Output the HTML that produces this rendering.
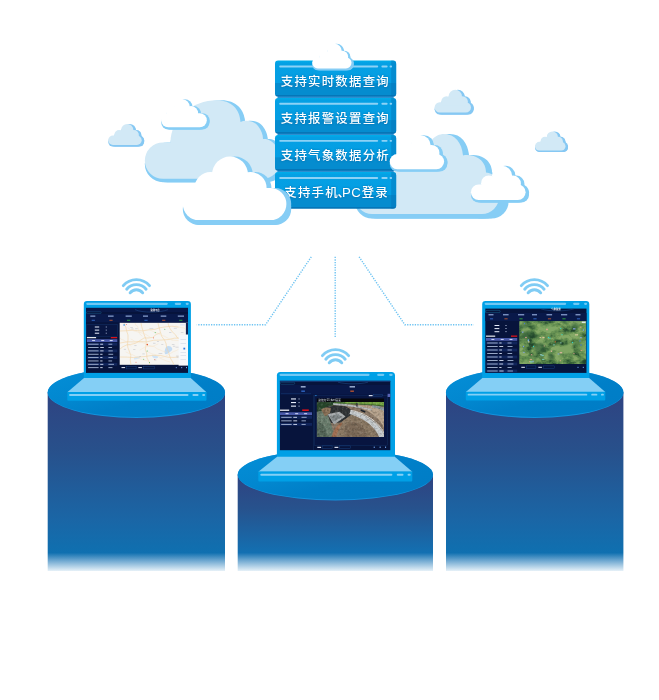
<!DOCTYPE html>
<html lang="zh-CN">
<head>
<meta charset="utf-8">
<title>云平台数据服务</title>
<style>
html,body{margin:0;padding:0;background:#fff;}
body{width:659px;height:700px;overflow:hidden;position:relative;font-family:"Liberation Sans","Noto Sans CJK SC",sans-serif;}
svg{position:absolute;left:0;top:0;display:block;}
text{font-family:"Liberation Sans","Noto Sans CJK SC",sans-serif;}
.bt{font-size:12.4px;font-weight:500;fill:#fff;letter-spacing:1.25px;filter:drop-shadow(0 0 0.8px rgba(0,70,130,0.55));}
.t{font-size:2.6px;fill:#e8f0ff;opacity:0.92;}
.tb{font-size:2.3px;fill:#ffffff;font-weight:700;opacity:0.96;}
</style>
</head>
<body>
<svg width="659" height="700" viewBox="0 0 659 700">
<defs>
  <linearGradient id="cylL" gradientUnits="userSpaceOnUse" x1="0" y1="392" x2="0" y2="571">
    <stop offset="0" stop-color="#2f4381"/>
    <stop offset="0.32" stop-color="#28508b"/>
    <stop offset="0.715" stop-color="#1a66a6"/>
    <stop offset="0.898" stop-color="#0f70b0"/>
    <stop offset="0.94" stop-color="#6aa5cf"/>
    <stop offset="1" stop-color="#e6f1f8"/>
  </linearGradient>
  <linearGradient id="cylC" gradientUnits="userSpaceOnUse" x1="0" y1="475" x2="0" y2="571">
    <stop offset="0" stop-color="#2f4381"/>
    <stop offset="0.35" stop-color="#27528d"/>
    <stop offset="0.81" stop-color="#1370b2"/>
    <stop offset="0.885" stop-color="#6aa5cf"/>
    <stop offset="1" stop-color="#e6f1f8"/>
  </linearGradient>
  <linearGradient id="disc" x1="0" y1="0" x2="1" y2="1">
    <stop offset="0" stop-color="#048fd8"/>
    <stop offset="0.4" stop-color="#0287cf"/>
    <stop offset="0.6" stop-color="#007fc8"/>
    <stop offset="1" stop-color="#007cc5"/>
  </linearGradient>
  <linearGradient id="btn" x1="0" y1="0" x2="0" y2="1">
    <stop offset="0" stop-color="#00aeea"/>
    <stop offset="0.07" stop-color="#05a0e4"/>
    <stop offset="0.622" stop-color="#049ee3"/>
    <stop offset="0.632" stop-color="#058ccf"/>
    <stop offset="0.945" stop-color="#058ccf"/>
    <stop offset="0.955" stop-color="#0576b8"/>
    <stop offset="1" stop-color="#0576b8"/>
  </linearGradient>
  <filter id="soft" x="-5%" y="-5%" width="110%" height="110%"><feGaussianBlur stdDeviation="0.6"/></filter>
  <filter id="soft2" x="-5%" y="-5%" width="110%" height="110%"><feGaussianBlur stdDeviation="1.1"/></filter>
  <filter id="sat" filterUnits="userSpaceOnUse" x="519" y="321" width="68" height="44" color-interpolation-filters="sRGB">
    <feTurbulence type="fractalNoise" baseFrequency="0.110 0.150" numOctaves="5" seed="12"/>
    <feColorMatrix type="matrix" values="2.300 0 0 0 -0.470  2.300 0 0 0 -0.470  2.300 0 0 0 -0.470  0 0 0 0 1"/>
    <feComponentTransfer>
      <feFuncR type="table" tableValues="0.140 0.200 0.290 0.370 0.440 0.520"/>
      <feFuncG type="table" tableValues="0.280 0.360 0.460 0.540 0.600 0.660"/>
      <feFuncB type="table" tableValues="0.180 0.210 0.260 0.310 0.340 0.400"/>
    </feComponentTransfer>
  </filter>
  <filter id="grainD" x="0" y="0" width="1" height="1" color-interpolation-filters="sRGB">
    <feTurbulence type="fractalNoise" baseFrequency="0.420" numOctaves="2" seed="5"/>
    <feColorMatrix type="matrix" values="0 0 0 0 0.080  0 0 0 0 0.080  0 0 0 0 0.060  2.400 0 0 0 -1.050"/>
  </filter>
  <filter id="grainL" x="0" y="0" width="1" height="1" color-interpolation-filters="sRGB">
    <feTurbulence type="fractalNoise" baseFrequency="0.380" numOctaves="2" seed="9"/>
    <feColorMatrix type="matrix" values="0 0 0 0 0.960  0 0 0 0 0.950  0 0 0 0 0.900  0 2.400 0 0 -1.150"/>
  </filter>
  <clipPath id="clipA"><rect x="42.500" y="-5" width="80" height="80"/></clipPath>
  <clipPath id="clipB"><rect x="18" y="-5" width="30" height="40"/></clipPath>
  <clipPath id="cpPhoto"><rect x="316.8" y="402" width="67.2" height="35"/></clipPath>
  <clipPath id="cpSat"><rect x="519.500" y="321.200" width="66.500" height="42.800"/></clipPath>
  <clipPath id="cpMap"><rect x="119.7" y="323" width="68.3" height="42"/></clipPath>

  <!-- cloud shapes (unions of primitives) -->
  <g id="cloudA">
    <rect x="0" y="31.500" width="103.600" height="32" rx="16"/>
    <circle cx="47.200" cy="18" r="18"/>
    <circle cx="27.700" cy="31.500" r="16"/>
    <circle cx="67.800" cy="31.500" r="16"/>
    <rect x="27.700" y="18" width="40" height="24"/>
  </g>
  <g id="cloudB">
    <rect x="0" y="12.500" width="36.400" height="10.300" rx="5.150"/>
    <circle cx="11.900" cy="11.700" r="5.200"/>
    <circle cx="20.700" cy="6.700" r="6.700"/>
    <circle cx="27.900" cy="11.900" r="5.400"/>
    <rect x="8" y="9" width="24" height="7"/>
  </g>
  <path id="bigLp" d="M163,178.800 A18.200,18.200 0 0 1 163,142.400 H170.500 C171,118 192,100.200 217,100.200 C231,100.200 240,109 240.500,122 C245,119.500 254,120.500 258,126 C261,130 263,134 263,139 C266,138.500 272,140 276,146 C279,150 281,155 281,160 A18.800,18.800 0 0 1 262,178.800 Z"/>
  <path id="bigRp" d="M372,214 A17,17 0 0 1 355,197 V160 H424 C426,142 435,134 444,134 C455,134 462,143 463,155.500 C468,154.500 474,155.500 478,158 C483,161 486,166 486,172.500 C494,173 499,180 499,190 V197 A17,17 0 0 1 482,214 Z"/>

  <g id="wifi" fill="none" stroke="#80ccf4" stroke-width="2.900" stroke-linecap="round">
    <path d="M-13.100,-11.400 A17.300,17.300 0 0 1 13.100,-11.400"/>
    <path d="M-9.700,-7.800 A12.600,12.600 0 0 1 9.700,-7.800"/>
    <path d="M-6.300,-4.200 A8,8 0 0 1 6.300,-4.200"/>
  </g>
</defs>

<!-- big light cloud (left) -->
<g fill="#86cdf5"><use href="#bigLp" transform="translate(0,3.400)"/><use href="#bigLp" transform="translate(2.300,3.400)"/><use href="#bigLp" transform="translate(4.600,3.400)"/><use href="#bigLp" transform="translate(4.600,1.500)"/><use href="#bigLp" transform="translate(4.600,0)"/></g>
<use href="#bigLp" fill="#d2e9f6"/>
<!-- big light cloud (right) -->
<g fill="#86cdf5"><use href="#bigRp" transform="translate(0,4.600)"/><use href="#bigRp" transform="translate(3,4.600)"/><use href="#bigRp" transform="translate(6,4.600)"/><use href="#bigRp" transform="translate(6,2)"/><use href="#bigRp" transform="translate(6,0)"/><rect x="465" y="184" width="43.600" height="34.600" rx="17"/></g>
<use href="#bigRp" fill="#d2e9f6"/>
<!-- small light clouds -->
<g fill="#86c8f3">
  <use href="#cloudB" transform="translate(108.2,125.6) scale(0.9203)"/>
  <use href="#cloudB" transform="translate(109.45,125.6) scale(0.9203)"/>
  <use href="#cloudB" transform="translate(110.7,125.6) scale(0.9203)"/>
  <use href="#cloudB" transform="translate(110.7,124.8) scale(0.9203)"/>
  <use href="#cloudB" transform="translate(110.7,124) scale(0.9203)" clip-path="url(#clipB)"/>
</g>
<use href="#cloudB" transform="translate(108.2,124) scale(0.9203)" fill="#d2e9f6"/>
<g fill="#86c8f3">
  <use href="#cloudB" transform="translate(434.6,91.6) scale(1.0000)"/>
  <use href="#cloudB" transform="translate(435.95,91.6) scale(1.0000)"/>
  <use href="#cloudB" transform="translate(437.3,91.6) scale(1.0000)"/>
  <use href="#cloudB" transform="translate(437.3,90.7) scale(1.0000)"/>
  <use href="#cloudB" transform="translate(437.3,89.8) scale(1.0000)" clip-path="url(#clipB)"/>
</g>
<use href="#cloudB" transform="translate(434.6,89.8) scale(1.0000)" fill="#d2e9f6"/>
<g fill="#86c8f3">
  <use href="#cloudB" transform="translate(535,132.9) scale(0.8379)"/>
  <use href="#cloudB" transform="translate(536.25,132.9) scale(0.8379)"/>
  <use href="#cloudB" transform="translate(537.5,132.9) scale(0.8379)"/>
  <use href="#cloudB" transform="translate(537.5,132.15) scale(0.8379)"/>
  <use href="#cloudB" transform="translate(537.5,131.4) scale(0.8379)" clip-path="url(#clipB)"/>
</g>
<use href="#cloudB" transform="translate(535,131.4) scale(0.8379)" fill="#d2e9f6"/>
<!-- small white cloud on the left big cloud -->
<g fill="#86cdf5">
  <use href="#cloudA" transform="translate(161.2,101.6) scale(0.4402)"/>
  <use href="#cloudA" transform="translate(162.55,101.6) scale(0.4402)"/>
  <use href="#cloudA" transform="translate(163.9,101.6) scale(0.4402)"/>
  <use href="#cloudA" transform="translate(163.9,100.45) scale(0.4402)"/>
  <use href="#cloudA" transform="translate(163.9,99.3) scale(0.4402)" clip-path="url(#clipA)"/>
</g>
<use href="#cloudA" transform="translate(161.2,99.3) scale(0.4402)" fill="#ffffff"/>
<!-- feature list -->
<g id="buttons">
  <rect x="277.500" y="64" width="116.200" height="142" fill="#2c8fd0"/>
  <rect x="275" y="60.6" width="121.200" height="36" rx="3.200" fill="url(#btn)"/>
  <rect x="275" y="97.9" width="121.200" height="35.8" rx="3.200" fill="url(#btn)"/>
  <rect x="275" y="135" width="121.200" height="35.8" rx="3.200" fill="url(#btn)"/>
  <rect x="275" y="172.1" width="121.200" height="36.7" rx="3.200" fill="url(#btn)"/>
  <g fill="#0670b4" opacity="0.400">
    <path d="M391.200,60.6 H393 a3.200,3.200 0 0 1 3.200,3.200 V93.4 a3.200,3.200 0 0 1 -3.200,3.200 H391.200 Z"/>
    <path d="M391.200,97.9 H393 a3.200,3.200 0 0 1 3.200,3.200 V130.5 a3.200,3.200 0 0 1 -3.200,3.200 H391.200 Z"/>
    <path d="M391.200,135 H393 a3.200,3.200 0 0 1 3.200,3.200 V167.6 a3.200,3.200 0 0 1 -3.200,3.200 H391.200 Z"/>
    <path d="M391.200,172.1 H393 a3.200,3.200 0 0 1 3.200,3.200 V205.6 a3.200,3.200 0 0 1 -3.200,3.200 H391.200 Z"/>
  </g>
  <g fill="#8cd2f6">
    <rect x="279.200" y="65.5" width="99" height="1.900" rx="0.950"/><rect x="381.400" y="65.5" width="6.200" height="1.900" rx="0.950"/><rect x="389.600" y="65.5" width="2.500" height="1.900" rx="0.950"/>
    <rect x="279.200" y="102.8" width="99" height="1.900" rx="0.950"/><rect x="381.400" y="102.8" width="6.200" height="1.900" rx="0.950"/><rect x="389.600" y="102.8" width="2.500" height="1.900" rx="0.950"/>
    <rect x="279.200" y="139.9" width="99" height="1.900" rx="0.950"/><rect x="381.400" y="139.9" width="6.200" height="1.900" rx="0.950"/><rect x="389.600" y="139.9" width="2.500" height="1.900" rx="0.950"/>
    <rect x="279.200" y="177" width="99" height="1.900" rx="0.950"/><rect x="381.400" y="177" width="6.200" height="1.900" rx="0.950"/><rect x="389.600" y="177" width="2.500" height="1.900" rx="0.950"/>
  </g>
  <text class="bt" x="280.800" y="85.7">支持实时数据查询</text>
  <text class="bt" x="280.800" y="123">支持报警设置查询</text>
  <text class="bt" x="280.800" y="160.1">支持气象数据分析</text>
  <text class="bt" x="284.300" y="197.2">支持手机<tspan dx="-1.300">、</tspan><tspan dx="-9.200" letter-spacing="0.500" font-size="13.200">PC</tspan><tspan dx="0.300">登录</tspan></text>
</g>
<!-- white cloud above the list -->
<g fill="#86cdf5">
  <use href="#cloudB" transform="translate(312.2,45.7) scale(1.0797)"/>
  <use href="#cloudB" transform="translate(313.3,45.7) scale(1.0797)"/>
  <use href="#cloudB" transform="translate(314.4,45.7) scale(1.0797)"/>
  <use href="#cloudB" transform="translate(314.4,44.75) scale(1.0797)"/>
  <use href="#cloudB" transform="translate(314.4,43.8) scale(1.0797)" clip-path="url(#clipB)"/>
</g>
<use href="#cloudB" transform="translate(312.2,43.8) scale(1.0797)" fill="#ffffff"/>
<!-- white cloud right of the list -->
<g fill="#86cdf5">
  <use href="#cloudB" transform="translate(389.7,137.4) scale(1.4945)"/>
  <use href="#cloudB" transform="translate(391.35,137.4) scale(1.4945)"/>
  <use href="#cloudB" transform="translate(393,137.4) scale(1.4945)"/>
  <use href="#cloudB" transform="translate(393,136.3) scale(1.4945)"/>
  <use href="#cloudB" transform="translate(393,135.2) scale(1.4945)" clip-path="url(#clipB)"/>
</g>
<use href="#cloudB" transform="translate(389.7,135.2) scale(1.4945)" fill="#ffffff"/>
<!-- white cloud lower right -->
<g fill="#86cdf5">
  <use href="#cloudB" transform="translate(470.9,168.2) scale(1.5027)"/>
  <use href="#cloudB" transform="translate(472.6,168.2) scale(1.5027)"/>
  <use href="#cloudB" transform="translate(474.3,168.2) scale(1.5027)"/>
  <use href="#cloudB" transform="translate(474.3,167) scale(1.5027)"/>
  <use href="#cloudB" transform="translate(474.3,165.8) scale(1.5027)" clip-path="url(#clipB)"/>
</g>
<use href="#cloudB" transform="translate(470.9,165.8) scale(1.5027)" fill="#ffffff"/>
<!-- big white cloud front left -->
<g fill="#86cdf5">
  <use href="#cloudA" transform="translate(182.8,161.4) scale(1.0000)"/>
  <use href="#cloudA" transform="translate(185.2,161.4) scale(1.0000)"/>
  <use href="#cloudA" transform="translate(187.6,161.4) scale(1.0000)"/>
  <use href="#cloudA" transform="translate(187.6,159) scale(1.0000)"/>
  <use href="#cloudA" transform="translate(187.6,156.6) scale(1.0000)" clip-path="url(#clipA)"/>
</g>
<use href="#cloudA" transform="translate(182.8,156.6) scale(1.0000)" fill="#ffffff"/>
<!-- dotted connectors -->
<g fill="none" stroke="#6fc4f2" stroke-width="1.400" stroke-dasharray="1.300 1.250">
  <path d="M311.300,256.800 L265.600,324.700 H196.800"/>
  <path d="M335.200,256.800 V337"/>
  <path d="M359.100,256.800 L404.800,324.700 H473.600"/>
</g>

<!-- pedestals -->
<path d="M47.700,392.500 H225 V571 H47.700 Z" fill="url(#cylL)"/>
<ellipse cx="136.350" cy="392.700" rx="88.650" ry="25.200" fill="#1393de"/>
<ellipse cx="136.350" cy="392.300" rx="88.650" ry="24.700" fill="url(#disc)"/>
<path d="M446,392.500 H623.400 V571 H446 Z" fill="url(#cylL)"/>
<ellipse cx="534.700" cy="392.700" rx="88.700" ry="25.200" fill="#1393de"/>
<ellipse cx="534.700" cy="392.300" rx="88.700" ry="24.700" fill="url(#disc)"/>
<path d="M237.700,474.800 H433 V571 H237.700 Z" fill="url(#cylC)"/>
<ellipse cx="335.350" cy="474.900" rx="97.650" ry="25.500" fill="#1393de"/>
<ellipse cx="335.350" cy="474.500" rx="97.650" ry="25" fill="url(#disc)"/>

<!-- laptops -->
<g>
  <path d="M87,301.1 H187.7 A3.2,3.2 0 0 1 190.9,304.3 V378.5 H83.8 V304.3 A3.2,3.2 0 0 1 87,301.1 Z" fill="#00a0e6"/>
  <rect x="86.2" y="302.7" width="81.61" height="2.2" rx="1.1" fill="#70c8f4"/>
  <rect x="174.73" y="302.7" width="6.43" height="2.2" rx="1.1" fill="#70c8f4"/>
  <rect x="185.65" y="302.7" width="3.11" height="2.2" rx="1.1" fill="#70c8f4"/>
  <path d="M84,378 H190.7 L206.5,392.2 H67.3 Z" fill="#84cff5"/>
  <path d="M67.3,392 H206.5 V399.8 A1,1 0 0 1 205.5,400.8 H68.3 A1,1 0 0 1 67.3,399.8 Z" fill="#00a0e6"/>
  <rect x="69.1" y="394" width="119.43" height="1.9" rx="0.95" fill="#84cff5"/>
  <rect x="192.44" y="394" width="6.12" height="1.9" rx="0.95" fill="#84cff5"/>
  <rect x="202.18" y="394" width="2.92" height="1.9" rx="0.95" fill="#84cff5"/>
</g>
<g>
  <path d="M485.4,301.1 H586.1 A3.2,3.2 0 0 1 589.3,304.3 V378.5 H482.2 V304.3 A3.2,3.2 0 0 1 485.4,301.1 Z" fill="#00a0e6"/>
  <rect x="484.6" y="302.7" width="81.61" height="2.2" rx="1.1" fill="#70c8f4"/>
  <rect x="573.13" y="302.7" width="6.43" height="2.2" rx="1.1" fill="#70c8f4"/>
  <rect x="584.05" y="302.7" width="3.11" height="2.2" rx="1.1" fill="#70c8f4"/>
  <path d="M482.4,378 H589.1 L605.3,391.9 H465.8 Z" fill="#84cff5"/>
  <path d="M465.8,391.7 H605.3 V399.5 A1,1 0 0 1 604.3,400.5 H466.8 A1,1 0 0 1 465.8,399.5 Z" fill="#00a0e6"/>
  <rect x="467.6" y="393.7" width="119.69" height="1.9" rx="0.95" fill="#84cff5"/>
  <rect x="591.21" y="393.7" width="6.14" height="1.9" rx="0.95" fill="#84cff5"/>
  <rect x="600.98" y="393.7" width="2.93" height="1.9" rx="0.95" fill="#84cff5"/>
</g>
<g>
  <path d="M280.42,371.9 H391.48 A3.52,3.52 0 0 1 395,375.42 V457.3 H276.9 V375.42 A3.52,3.52 0 0 1 280.42,371.9 Z" fill="#00a0e6"/>
  <rect x="279.54" y="373.66" width="89.99" height="2.42" rx="1.21" fill="#70c8f4"/>
  <rect x="377.17" y="373.66" width="7.09" height="2.42" rx="1.21" fill="#70c8f4"/>
  <rect x="389.21" y="373.66" width="3.42" height="2.42" rx="1.21" fill="#70c8f4"/>
  <path d="M277.1,456.8 H394.8 L412.3,471.7 H258.3 Z" fill="#84cff5"/>
  <path d="M258.3,471.5 H412.3 V480.4 A1,1 0 0 1 411.3,481.4 H259.3 A1,1 0 0 1 258.3,480.4 Z" fill="#00a0e6"/>
  <rect x="260.28" y="473.7" width="132.13" height="2.09" rx="1.04" fill="#84cff5"/>
  <rect x="396.75" y="473.7" width="6.78" height="2.09" rx="1.04" fill="#84cff5"/>
  <rect x="407.53" y="473.7" width="3.23" height="2.09" rx="1.04" fill="#84cff5"/>
</g>
<!-- left screen: map dashboard -->
<g id="screenL">
  <rect x="86" y="307.900" width="102" height="65" fill="#07143c"/>
  <rect x="86" y="307.900" width="102" height="4.200" fill="#091848"/>
  <path d="M135,309.600 C142,313 160,313 168,309.600" fill="none" stroke="#23508f" stroke-width="0.500"/>
  <rect x="86.400" y="311.800" width="14.800" height="1.800" rx="0.900" fill="none" stroke="#1f6f9f" stroke-width="0.400"/>
  <text class="tb" x="155" y="311.400" text-anchor="middle">监测平台</text>
  <rect x="86" y="314" width="102" height="8.300" fill="#09194a"/>
  <rect x="90.3" y="315.6" width="5" height="1" fill="#a8c0ee"/>
  <rect x="91.7" y="319.8" width="3.200" height="0.900" fill="#3b7be6" opacity="0.850"/>
  <rect x="108" y="315.6" width="5.6" height="1" fill="#a8c0ee"/>
  <rect x="109.4" y="319.8" width="3.200" height="0.900" fill="#e2622c" opacity="0.850"/>
  <rect x="125.6" y="315.6" width="6.2" height="1" fill="#a8c0ee"/>
  <rect x="127" y="319.8" width="3.200" height="0.900" fill="#35c637" opacity="0.850"/>
  <rect x="143" y="315.6" width="5" height="1" fill="#a8c0ee"/>
  <rect x="144.4" y="319.8" width="3.200" height="0.900" fill="#3b7be6" opacity="0.850"/>
  <rect x="160.7" y="315.6" width="5.6" height="1" fill="#a8c0ee"/>
  <rect x="162.1" y="319.8" width="3.200" height="0.900" fill="#e2622c" opacity="0.850"/>
  <rect x="177.8" y="315.6" width="6.2" height="1" fill="#a8c0ee"/>
  <rect x="179.2" y="319.8" width="3.200" height="0.900" fill="#35c637" opacity="0.850"/>
  <rect x="86.800" y="324.300" width="30.800" height="12" fill="#081642" stroke="#183a72" stroke-width="0.400"/>
  <rect x="94.800" y="326.5" width="4.400" height="1" fill="#e8eefc"/><rect x="105.800" y="326.5" width="0.800" height="1" fill="#c8d4f0"/>
  <rect x="94.800" y="329.6" width="4.400" height="1" fill="#e8eefc"/><rect x="105.800" y="329.6" width="0.800" height="1" fill="#c8d4f0"/>
  <rect x="94.800" y="332.7" width="4.400" height="1" fill="#e8eefc"/><rect x="105.800" y="332.7" width="0.800" height="1" fill="#c8d4f0"/>
  <rect x="86.900" y="337.100" width="9.200" height="1.100" fill="#ffffff"/>
  <rect x="110.800" y="337" width="6.400" height="1.300" fill="#d8121c"/>
  <rect x="86.9" y="339.2" width="30.4" height="2.800" fill="#4a5aaa"/>
  <rect x="92.09" y="340.15" width="3" height="0.900" fill="#dfe6ff"/>
  <rect x="101.21" y="340.15" width="3" height="0.900" fill="#dfe6ff"/>
  <rect x="109.72" y="340.15" width="3" height="0.900" fill="#dfe6ff"/>
  <rect x="86.9" y="342.8" width="30.4" height="2.800" fill="#10245a"/>
  <rect x="88.1" y="343.75" width="10.500" height="0.900" fill="#a9b8d6"/><rect x="100.2" y="343.75" width="2.91" height="0.900" fill="#d6def2"/><rect x="108.4" y="343.75" width="3.88" height="0.900" fill="#9fb0d0"/>
  <rect x="88.1" y="347.1" width="10.500" height="0.900" fill="#a9b8d6"/><rect x="100.2" y="347.1" width="3.63" height="0.900" fill="#d6def2"/><rect x="108.4" y="347.1" width="3.68" height="0.900" fill="#9fb0d0"/>
  <rect x="86.9" y="349.5" width="30.4" height="2.800" fill="#10245a"/>
  <rect x="88.1" y="350.45" width="10.500" height="0.900" fill="#a9b8d6"/><rect x="100.2" y="350.45" width="3.38" height="0.900" fill="#d6def2"/><rect x="108.4" y="350.45" width="4.41" height="0.900" fill="#9fb0d0"/>
  <rect x="88.1" y="353.8" width="10.500" height="0.900" fill="#a9b8d6"/><rect x="100.2" y="353.8" width="2.33" height="0.900" fill="#d6def2"/><rect x="108.4" y="353.8" width="4.77" height="0.900" fill="#9fb0d0"/>
  <rect x="86.9" y="356.2" width="30.4" height="2.800" fill="#10245a"/>
  <rect x="88.1" y="357.15" width="10.500" height="0.900" fill="#a9b8d6"/><rect x="100.2" y="357.15" width="2.28" height="0.900" fill="#d6def2"/><rect x="108.4" y="357.15" width="4.58" height="0.900" fill="#9fb0d0"/>
  <rect x="88.1" y="360.5" width="10.500" height="0.900" fill="#a9b8d6"/><rect x="100.2" y="360.5" width="2.35" height="0.900" fill="#d6def2"/><rect x="108.4" y="360.5" width="3.73" height="0.900" fill="#9fb0d0"/>
  <rect x="86.9" y="362.9" width="30.4" height="2.800" fill="#10245a"/>
  <rect x="88.1" y="363.85" width="10.500" height="0.900" fill="#a9b8d6"/><rect x="100.2" y="363.85" width="3.13" height="0.900" fill="#d6def2"/><rect x="108.4" y="363.85" width="5.57" height="0.900" fill="#9fb0d0"/>
  <rect x="88.1" y="367.2" width="10.500" height="0.900" fill="#a9b8d6"/><rect x="100.2" y="367.2" width="2.47" height="0.900" fill="#d6def2"/><rect x="108.4" y="367.2" width="4.06" height="0.900" fill="#9fb0d0"/>
  <rect x="119.700" y="322.800" width="68.300" height="42" fill="#f6f5f2"/>
  <g clip-path="url(#cpMap)" fill="none" stroke-linecap="round" stroke-linejoin="round">
    <path d="M166,347 c2,-2 5,-1 6,1 c1,2 -1,3 -2,4 c-2,1 -3,3 -5,2 c-1,-2 0,-5 1,-7 Z" fill="#c3dcf4" stroke="none"/>
    <path d="M152,355 c2,1 4,0 6,1.500 c1,1 -1,2 -3,1.800 c-2,0 -3,-1.500 -3,-3.300 Z" fill="#cfe3f6" stroke="none"/>
    <path d="M134,358 c2,-1 4,-2 6,-1 c0,1.500 -3,2.500 -6,2.500 Z" fill="#d6e7f7" stroke="none"/>
    <path d="M120,343 Q127.29,341.09 134.03,341.93 Q141.1,341.08 146.29,341.94 Q153.18,339.52 161.79,340.04 Q169.69,339.86 174.42,338.16 Q182.41,338.45 188,338" stroke="#f4d3a4" stroke-width="0.600"/>
    <path d="M141,323 Q141.39,326.54 142.79,330.17 Q143.42,333.29 146.05,339.38 Q146.84,343.45 145.3,349.22 Q147.04,352.66 147,357.97 Q150,362.75 150,365" stroke="#f4d3a4" stroke-width="0.600"/>
    <path d="M120,357 Q126.57,356.9 133.46,357.54 Q140.91,356.67 145.19,356.52 Q151.41,354.68 160.65,355.44 Q168.1,358.02 174.15,357.44 Q180.06,356.69 186,356" stroke="#f4d3a4" stroke-width="0.600"/>
    <path d="M158,323 Q158.54,326.1 160.31,331.75 Q161.06,336.97 164.58,340.19 Q166.47,343.27 166.58,347.14 Q169.03,353.12 170.31,357.97 Q173.43,362.95 174,365" stroke="#f4d3a4" stroke-width="0.600"/>
    <path d="M124,323 Q126.31,327.29 126.88,331.69 Q128.53,334.3 128.03,339.77 Q127.14,342.91 127.8,347.39 Q129.05,350.4 130.8,355.52 Q129.52,359.74 131,365" stroke="#f4d3a4" stroke-width="0.600"/>
    <path d="M120,331 Q127.41,330.89 132.39,330.13 Q137.16,330.76 142.41,330.87 Q149.76,329.49 154.88,329.33 Q160,327.39 164.89,326.88 Q172.3,325.37 178,327" stroke="#f4d3a4" stroke-width="0.600"/>
    <path d="M168,323 Q167.74,324.55 170.08,328.7 Q171.35,331.64 175.66,334.93 Q176.22,337.85 179.07,338.42 Q181.08,341.05 182.1,346.07 Q184.17,347.47 186,350" stroke="#f4d3a4" stroke-width="0.600"/>
    <path d="M120,349 Q121.89,346.78 126.93,344.79 Q129.87,344.87 135.61,343.27 Q138.85,341.29 144.16,337.95 Q147.63,338.3 152.67,337.4 Q155.74,333.73 160,333" stroke="#f4d3a4" stroke-width="0.600"/>
    <path d="M147,345 Q150.95,345.92 154.38,346.8 Q157.63,349.51 159.67,349.79 Q162.34,351.42 166,352" stroke="#f5e1c4" stroke-width="0.450"/>
    <path d="M131,339 Q132.08,339.31 135.2,341.82 Q137.94,343.04 142.91,342.62 Q145.63,343.68 147,345" stroke="#f5e1c4" stroke-width="0.450"/>
    <path d="M150,330 Q152.68,331.42 157.71,333.18 Q160.55,335.31 164.71,336.38 Q169.18,338.77 172,340" stroke="#f5e1c4" stroke-width="0.450"/>
    <path d="M126,352 Q129.5,354.05 133.04,354.97 Q138.04,357.81 141.01,359.2 Q144.83,360.77 148,361" stroke="#f5e1c4" stroke-width="0.450"/>
    <path d="M160,358 Q165.44,357.28 169.18,354.14 Q174.2,351 176.67,350.42 Q180.85,347.22 186,345" stroke="#f5e1c4" stroke-width="0.450"/>
    <path d="M135,323 Q135.22,325.81 137.47,326.24 Q138.84,328.77 139.15,332.82 Q140.15,334.78 142,336" stroke="#f5e1c4" stroke-width="0.450"/>
    <path d="M172,340 Q174.47,340.52 178.51,340.54 Q179.69,341.4 182.03,342.9 Q186.16,342.86 188,343" stroke="#f5e1c4" stroke-width="0.450"/>
    <path d="M120,338 Q120.34,339.72 123.1,339.82 Q126.2,341.81 127.03,342.74 Q127.77,344.37 131,346" stroke="#f5e1c4" stroke-width="0.450"/>
    <path d="M148,352 Q151.81,354.35 155.85,354.66 Q158.28,355.77 161.39,358.78 Q166.45,361.23 170,362" stroke="#f5e1c4" stroke-width="0.450"/>
    <path d="M176,326 Q178.7,327.54 179.19,327.08 Q180.41,327.73 184.13,327.95 Q184.98,330.02 188,330" stroke="#f5e1c4" stroke-width="0.450"/>
    <path d="M140,350 Q143.38,348.01 145.19,346.86 Q148.41,346.18 152.82,346.28 Q154.88,345.47 158,344" stroke="#f5e1c4" stroke-width="0.450"/>
    <path d="M128,328 Q129.9,329.5 134.21,331.03 Q139.14,332.51 143.13,333.19 Q145.68,334.07 150,337" stroke="#f5e1c4" stroke-width="0.450"/>
    <circle cx="147.3" cy="344.6" r="0.8" fill="#e4572e" stroke="none"/>
    <circle cx="153.5" cy="337.8" r="0.6" fill="#ef7f6a" stroke="none"/>
    <circle cx="155.2" cy="332.6" r="0.55" fill="#5fbf6a" stroke="none"/>
    <circle cx="164.8" cy="329.2" r="0.55" fill="#5fbf6a" stroke="none"/>
    <circle cx="147.2" cy="351" r="0.55" fill="#5fbf6a" stroke="none"/>
    <circle cx="143.7" cy="359.3" r="0.5" fill="#5fbf6a" stroke="none"/>
    <circle cx="154.8" cy="359.6" r="0.55" fill="#ef7f6a" stroke="none"/>
    <circle cx="136" cy="362.3" r="0.5" fill="#ef7f6a" stroke="none"/>
    <circle cx="149.5" cy="362.5" r="0.5" fill="#5fbf6a" stroke="none"/>
    <circle cx="126.4" cy="324.6" r="0.5" fill="#ef7f6a" stroke="none"/>
    <rect x="135.16" y="328.52" width="2.55" height="0.600" fill="#b9bcc4" stroke="none" opacity="0.800"/>
    <rect x="130.3" y="327.09" width="2.56" height="0.600" fill="#b9bcc4" stroke="none" opacity="0.800"/>
    <rect x="176.08" y="355.72" width="3.44" height="0.600" fill="#b9bcc4" stroke="none" opacity="0.800"/>
    <rect x="134.32" y="345.43" width="2.26" height="0.600" fill="#b9bcc4" stroke="none" opacity="0.800"/>
    <rect x="131.36" y="328.64" width="2.11" height="0.600" fill="#b9bcc4" stroke="none" opacity="0.800"/>
    <rect x="176.65" y="356.83" width="3.54" height="0.600" fill="#b9bcc4" stroke="none" opacity="0.800"/>
    <rect x="169.03" y="332.04" width="2.34" height="0.600" fill="#b9bcc4" stroke="none" opacity="0.800"/>
    <rect x="158.62" y="353.04" width="3.65" height="0.600" fill="#b9bcc4" stroke="none" opacity="0.800"/>
    <rect x="173.8" y="327.88" width="3.05" height="0.600" fill="#b9bcc4" stroke="none" opacity="0.800"/>
    <rect x="161.3" y="344.23" width="2.03" height="0.600" fill="#b9bcc4" stroke="none" opacity="0.800"/>
    <rect x="149.42" y="327.98" width="3.84" height="0.600" fill="#b9bcc4" stroke="none" opacity="0.800"/>
    <rect x="172.93" y="345.86" width="2.32" height="0.600" fill="#b9bcc4" stroke="none" opacity="0.800"/>
    <rect x="175.53" y="346.82" width="3.72" height="0.600" fill="#b9bcc4" stroke="none" opacity="0.800"/>
    <rect x="171.88" y="344.33" width="2.59" height="0.600" fill="#b9bcc4" stroke="none" opacity="0.800"/>
    <rect x="156.93" y="341.31" width="1.99" height="0.600" fill="#b9bcc4" stroke="none" opacity="0.800"/>
    <rect x="139.31" y="356.19" width="1.7" height="0.600" fill="#b9bcc4" stroke="none" opacity="0.800"/>
    <rect x="123.78" y="348.93" width="2.27" height="0.600" fill="#b9bcc4" stroke="none" opacity="0.800"/>
    <rect x="153.08" y="342.88" width="2.42" height="0.600" fill="#b9bcc4" stroke="none" opacity="0.800"/>
    <rect x="180.84" y="332.13" width="2.59" height="0.600" fill="#b9bcc4" stroke="none" opacity="0.800"/>
    <rect x="133.16" y="349.17" width="2.26" height="0.600" fill="#b9bcc4" stroke="none" opacity="0.800"/>
    <rect x="142.35" y="353.63" width="2.37" height="0.600" fill="#b9bcc4" stroke="none" opacity="0.800"/>
    <rect x="154.51" y="359.77" width="1.84" height="0.600" fill="#b9bcc4" stroke="none" opacity="0.800"/>
    <rect x="123.600" y="324" width="1" height="1.900" fill="#3b9be8" stroke="none"/>
  </g>
  <rect x="178.600" y="335" width="9.400" height="30.600" fill="#f6f8fb"/>
  <rect x="183.400" y="347.700" width="1.800" height="1.800" fill="#2e7be0"/>
  <rect x="180.500" y="339.5" width="5.500" height="0.500" fill="#c9d3e2"/>
  <rect x="180.500" y="343.5" width="5.500" height="0.500" fill="#c9d3e2"/>
  <rect x="180.500" y="352" width="5.500" height="0.500" fill="#c9d3e2"/>
  <rect x="180.500" y="355.5" width="5.500" height="0.500" fill="#c9d3e2"/>
  <rect x="180.500" y="359" width="5.500" height="0.500" fill="#c9d3e2"/>
  <rect x="185.900" y="323" width="2.100" height="11.500" fill="#15244f"/>
  <rect x="180.300" y="324" width="4.600" height="1.500" fill="#dfe9f7"/>
  <rect x="121.500" y="367.100" width="3.600" height="1" fill="#e8eefc"/><rect x="126.500" y="366.200" width="9.600" height="2.700" fill="none" stroke="#1d4a8c" stroke-width="0.400"/>
  <rect x="138.300" y="367.100" width="3.600" height="1" fill="#e8eefc"/><rect x="143.400" y="366.200" width="10.800" height="2.700" fill="none" stroke="#1d4a8c" stroke-width="0.400"/>
  <rect x="175.800" y="367" width="1" height="1.200" fill="#5f86c8"/><rect x="181.200" y="367" width="1" height="1.200" fill="#6fa0e8"/><rect x="186" y="367" width="1" height="1.200" fill="#6fa0e8"/>
</g>
<!-- right screen: satellite dashboard -->
<g id="screenR">
  <rect x="485.300" y="308.600" width="101.200" height="64.300" fill="#07143c"/>
  <path d="M541,308.800 C548,311.600 566,311.600 574,308.800" fill="none" stroke="#23508f" stroke-width="0.500"/>
  <text class="tb" x="556" y="310.300" text-anchor="middle">气象监测</text>
  <rect x="485.800" y="310.400" width="14.400" height="2.200" rx="1.100" fill="none" stroke="#1f7fa8" stroke-width="0.400"/>
  <rect x="485.300" y="313" width="101.200" height="8" fill="#09194a"/>
  <rect x="488.5" y="314.3" width="5" height="1" fill="#a8c0ee"/>
  <rect x="489.9" y="318.4" width="3.200" height="0.900" fill="#3b7be6" opacity="0.850"/>
  <rect x="503" y="314.3" width="5.6" height="1" fill="#a8c0ee"/>
  <rect x="504.4" y="318.4" width="3.200" height="0.900" fill="#e2622c" opacity="0.850"/>
  <rect x="518" y="314.3" width="6.2" height="1" fill="#a8c0ee"/>
  <rect x="519.4" y="318.4" width="3.200" height="0.900" fill="#35c637" opacity="0.850"/>
  <rect x="532" y="314.3" width="5" height="1" fill="#a8c0ee"/>
  <rect x="533.4" y="318.4" width="3.200" height="0.900" fill="#3b7be6" opacity="0.850"/>
  <rect x="546.5" y="314.3" width="5.6" height="1" fill="#a8c0ee"/>
  <rect x="547.9" y="318.4" width="3.200" height="0.900" fill="#e2622c" opacity="0.850"/>
  <rect x="561" y="314.3" width="6.2" height="1" fill="#a8c0ee"/>
  <rect x="562.4" y="318.4" width="3.200" height="0.900" fill="#35c637" opacity="0.850"/>
  <rect x="575.5" y="314.3" width="5" height="1" fill="#a8c0ee"/>
  <rect x="576.9" y="318.4" width="3.200" height="0.900" fill="#3b7be6" opacity="0.850"/>
  <rect x="494.500" y="325" width="4.800" height="1" fill="#e8eefc"/><rect x="505.400" y="325.1" width="1.200" height="0.800" fill="#c8d4f0"/>
  <rect x="494.500" y="328.1" width="4.800" height="1" fill="#e8eefc"/><rect x="505.400" y="328.2" width="1.200" height="0.800" fill="#c8d4f0"/>
  <rect x="494.500" y="331.2" width="4.800" height="1" fill="#e8eefc"/><rect x="505.400" y="331.3" width="1.200" height="0.800" fill="#c8d4f0"/>
  <rect x="486" y="335.600" width="9.200" height="1.100" fill="#ffffff"/>
  <rect x="511" y="335.500" width="6.200" height="1.300" fill="#d8121c"/>
  <rect x="486" y="338" width="31.2" height="2.800" fill="#4a5aaa"/>
  <rect x="491.36" y="338.95" width="3" height="0.900" fill="#dfe6ff"/>
  <rect x="500.72" y="338.95" width="3" height="0.900" fill="#dfe6ff"/>
  <rect x="509.46" y="338.95" width="3" height="0.900" fill="#dfe6ff"/>
  <rect x="486" y="341.6" width="31.2" height="2.800" fill="#10245a"/>
  <rect x="487.2" y="342.55" width="10.500" height="0.900" fill="#a9b8d6"/><rect x="499.3" y="342.55" width="2.34" height="0.900" fill="#d6def2"/><rect x="507.5" y="342.55" width="4.07" height="0.900" fill="#9fb0d0"/>
  <rect x="487.2" y="346.05" width="10.500" height="0.900" fill="#a9b8d6"/><rect x="499.3" y="346.05" width="3.88" height="0.900" fill="#d6def2"/><rect x="507.5" y="346.05" width="5.04" height="0.900" fill="#9fb0d0"/>
  <rect x="486" y="348.6" width="31.2" height="2.800" fill="#10245a"/>
  <rect x="487.2" y="349.55" width="10.500" height="0.900" fill="#a9b8d6"/><rect x="499.3" y="349.55" width="2.72" height="0.900" fill="#d6def2"/><rect x="507.5" y="349.55" width="4.33" height="0.900" fill="#9fb0d0"/>
  <rect x="487.2" y="353.05" width="10.500" height="0.900" fill="#a9b8d6"/><rect x="499.3" y="353.05" width="2.59" height="0.900" fill="#d6def2"/><rect x="507.5" y="353.05" width="4.65" height="0.900" fill="#9fb0d0"/>
  <rect x="486" y="355.6" width="31.2" height="2.800" fill="#10245a"/>
  <rect x="487.2" y="356.55" width="10.500" height="0.900" fill="#a9b8d6"/><rect x="499.3" y="356.55" width="2.29" height="0.900" fill="#d6def2"/><rect x="507.5" y="356.55" width="5.24" height="0.900" fill="#9fb0d0"/>
  <rect x="487.2" y="360.05" width="10.500" height="0.900" fill="#a9b8d6"/><rect x="499.3" y="360.05" width="4.17" height="0.900" fill="#d6def2"/><rect x="507.5" y="360.05" width="5.89" height="0.900" fill="#9fb0d0"/>
  <rect x="486" y="362.6" width="31.2" height="2.800" fill="#10245a"/>
  <rect x="487.2" y="363.55" width="10.500" height="0.900" fill="#a9b8d6"/><rect x="499.3" y="363.55" width="3.82" height="0.900" fill="#d6def2"/><rect x="507.5" y="363.55" width="5.9" height="0.900" fill="#9fb0d0"/>
  <rect x="487.2" y="367.05" width="10.500" height="0.900" fill="#a9b8d6"/><rect x="499.3" y="367.05" width="2.24" height="0.900" fill="#d6def2"/><rect x="507.5" y="367.05" width="4.22" height="0.900" fill="#9fb0d0"/>
  <rect x="486" y="369.6" width="31.2" height="2.800" fill="#10245a"/>
  <rect x="487.2" y="370.55" width="10.500" height="0.900" fill="#a9b8d6"/><rect x="499.3" y="370.55" width="4.33" height="0.900" fill="#d6def2"/><rect x="507.5" y="370.55" width="5.44" height="0.900" fill="#9fb0d0"/>
  <rect x="519.500" y="321.200" width="66.500" height="42.800" fill="#5a8550"/>
  <g clip-path="url(#cpSat)">
    <rect x="519" y="321" width="68" height="44" filter="url(#sat)"/>
    <g filter="url(#soft2)" opacity="0.600">
      <ellipse cx="527" cy="335" rx="6" ry="4" fill="#2c5636" transform="rotate(-20 527 335)"/>
      <ellipse cx="540" cy="348" rx="6" ry="5" fill="#2f5a38" transform="rotate(10 540 348)"/>
      <ellipse cx="551" cy="357" rx="3" ry="3" fill="#2a5233" transform="rotate(0 551 357)"/>
      <ellipse cx="524" cy="326" rx="5" ry="2" fill="#33603c" transform="rotate(-10 524 326)"/>
      <ellipse cx="575" cy="326" rx="4" ry="3" fill="#3a6640" transform="rotate(0 575 326)"/>
      <ellipse cx="566" cy="350" rx="8" ry="5" fill="#7aa260" transform="rotate(-15 566 350)"/>
      <ellipse cx="548" cy="328" rx="9" ry="3" fill="#7ea866" transform="rotate(8 548 328)"/>
      <ellipse cx="530" cy="360" rx="8" ry="3" fill="#6d9a58" transform="rotate(0 530 360)"/>
      <ellipse cx="580" cy="345" rx="5" ry="6" fill="#6f9c5a" transform="rotate(0 580 345)"/>
    </g>
    <rect x="559.62" y="351.93" width="2.63" height="1.46" fill="#e8b9a8" opacity="0.800"/>
    <rect x="573.1" y="353.26" width="1.65" height="0.84" fill="#e9a994" opacity="0.800"/>
    <rect x="528.02" y="341.29" width="1.64" height="1.18" fill="#f3d9b0" opacity="0.800"/>
    <rect x="521.81" y="331.45" width="1.7" height="1.44" fill="#8aa8e8" opacity="0.800"/>
    <rect x="530.9" y="354.09" width="1.45" height="1.23" fill="#e9a994" opacity="0.800"/>
    <rect x="529.2" y="360.92" width="1.21" height="1.34" fill="#e9a994" opacity="0.800"/>
    <rect x="575.09" y="334.28" width="2.93" height="1.18" fill="#f3d9b0" opacity="0.800"/>
    <rect x="532.26" y="360.77" width="1.55" height="1.48" fill="#8aa8e8" opacity="0.800"/>
    <rect x="539.52" y="337.09" width="1.5" height="0.9" fill="#f0c9a0" opacity="0.800"/>
    <rect x="541.57" y="354.88" width="2.26" height="1.22" fill="#7ad0c8" opacity="0.800"/>
    <rect x="525.09" y="336.86" width="1.75" height="1.29" fill="#e9a994" opacity="0.800"/>
    <rect x="550.84" y="350.48" width="1.3" height="1.48" fill="#e8b9a8" opacity="0.800"/>
    <rect x="579.85" y="336.95" width="1.93" height="1.18" fill="#8aa8e8" opacity="0.800"/>
    <rect x="543.7" y="345.56" width="1.22" height="0.83" fill="#e9a994" opacity="0.800"/>
    <rect x="559.67" y="360.22" width="1.41" height="0.97" fill="#f0b090" opacity="0.800"/>
    <rect x="542.35" y="336.84" width="2.14" height="1.34" fill="#f0c9a0" opacity="0.800"/>
    <rect x="557.57" y="353.46" width="1.86" height="1.01" fill="#8aa8e8" opacity="0.800"/>
    <rect x="579.64" y="326.56" width="1.81" height="1.23" fill="#e9a994" opacity="0.800"/>
    <rect x="542.08" y="359.04" width="2.18" height="1.02" fill="#7ad0c8" opacity="0.800"/>
    <rect x="539.98" y="354.15" width="2.33" height="1.3" fill="#9fd8d0" opacity="0.800"/>
    <rect x="582.8" y="329.3" width="1.29" height="1.49" fill="#8aa8e8" opacity="0.800"/>
    <rect x="522.97" y="351.88" width="1.82" height="0.98" fill="#8aa8e8" opacity="0.800"/>
    <rect x="530.03" y="361.18" width="2.35" height="1.36" fill="#7ad0c8" opacity="0.800"/>
    <rect x="572.98" y="328.09" width="2.52" height="1.46" fill="#8aa8e8" opacity="0.800"/>
    <rect x="527.61" y="339.95" width="1.47" height="1.39" fill="#9fd8d0" opacity="0.800"/>
    <rect x="529.75" y="358.96" width="2.32" height="0.92" fill="#f0b090" opacity="0.800"/>
    <rect x="580.53" y="349.86" width="1.77" height="0.99" fill="#f0b090" opacity="0.800"/>
    <rect x="546.03" y="328.71" width="1.88" height="1.49" fill="#e9a994" opacity="0.800"/>
    <rect x="559.87" y="342.47" width="1.81" height="0.86" fill="#9fd8d0" opacity="0.800"/>
    <rect x="552.94" y="344.38" width="2.11" height="0.84" fill="#7ad0c8" opacity="0.800"/>
    <circle cx="548.5" cy="337.5" r="0.650" fill="#36d6c8"/>
    <circle cx="550" cy="338.2" r="0.650" fill="#36d6c8"/>
    <circle cx="560.7" cy="328.4" r="0.650" fill="#36d6c8"/>
    <circle cx="562" cy="334.6" r="0.650" fill="#36d6c8"/>
    <circle cx="555.3" cy="341.8" r="0.650" fill="#e8642c"/>
    <circle cx="533.5" cy="346.5" r="0.650" fill="#36d6c8"/>
    <circle cx="572.5" cy="342.5" r="0.650" fill="#36d6c8"/>
    <circle cx="580" cy="341" r="0.650" fill="#4a78e0"/>
    <circle cx="524.5" cy="323.6" r="0.650" fill="#4a78e0"/>
    <circle cx="528.5" cy="340" r="0.650" fill="#6a98f0"/>
    <circle cx="523.5" cy="346.5" r="0.650" fill="#6a98f0"/>
    <circle cx="581" cy="345" r="0.650" fill="#4a78e0"/>
  </g>
  <rect x="581.800" y="321.600" width="3.800" height="1.300" fill="#e8eef6"/>
  <rect x="521.300" y="366.800" width="3.600" height="1" fill="#e8eefc"/><rect x="526.300" y="365.900" width="9.600" height="2.700" fill="none" stroke="#1d4a8c" stroke-width="0.400"/>
  <rect x="538.300" y="366.800" width="3.600" height="1" fill="#e8eefc"/><rect x="543.400" y="365.900" width="10.800" height="2.700" fill="none" stroke="#1d4a8c" stroke-width="0.400"/>
  <rect x="577.500" y="366.800" width="1" height="1.200" fill="#6fa0e8"/><rect x="582.800" y="366.800" width="1" height="1.200" fill="#6fa0e8"/>
</g>
<!-- center screen: video monitoring -->
<g id="screenC">
  <rect x="279.900" y="380.800" width="110.400" height="69.400" fill="#07143c"/>
  <rect x="279.900" y="380.800" width="110.400" height="1" fill="#1a3f7a"/>
  <rect x="280.200" y="382.300" width="14.500" height="2" rx="1" fill="none" stroke="#1f6f9f" stroke-width="0.400"/>
  <path d="M338,382.200 C346,384.400 360,384.400 368,382.200" fill="none" stroke="#23508f" stroke-width="0.500"/>
  <rect x="280" y="385" width="110" height="9.600" fill="#091848"/>
  <rect x="300.800" y="386.300" width="4.800" height="1.100" fill="#cfe0ff"/><rect x="349.600" y="386.300" width="5.400" height="1.100" fill="#cfe0ff"/>
  <rect x="301.300" y="390.600" width="3.600" height="1.100" fill="#3b7be6"/><rect x="350.300" y="390.600" width="3.600" height="1.100" fill="#e2622c"/>
  <rect x="281" y="393.600" width="30" height="0.500" fill="#14407a"/>
  <rect x="291" y="398.4" width="5" height="1.100" fill="#e8eefc"/><rect x="298.600" y="398.4" width="0.900" height="1.100" fill="#c8d4f0"/>
  <rect x="291" y="402" width="5" height="1.100" fill="#e8eefc"/><rect x="298.600" y="402" width="0.900" height="1.100" fill="#c8d4f0"/>
  <rect x="291" y="405.6" width="5" height="1.100" fill="#e8eefc"/><rect x="298.600" y="405.6" width="0.900" height="1.100" fill="#c8d4f0"/>
  <rect x="280" y="409.600" width="9.200" height="1.200" fill="#ffffff"/>
  <rect x="302.200" y="409.400" width="6.600" height="1.600" fill="#d8121c"/>
  <rect x="280" y="412.3" width="32" height="2.800" fill="#4a5aaa"/>
  <rect x="285.54" y="413.25" width="3" height="0.900" fill="#dfe6ff"/>
  <rect x="295.14" y="413.25" width="3" height="0.900" fill="#dfe6ff"/>
  <rect x="304.1" y="413.25" width="3" height="0.900" fill="#dfe6ff"/>
  <rect x="280" y="415.9" width="32" height="2.800" fill="#10245a"/>
  <rect x="281.2" y="416.85" width="10.500" height="0.900" fill="#a9b8d6"/><rect x="293.3" y="416.85" width="3.73" height="0.900" fill="#d6def2"/><rect x="301.5" y="416.85" width="5.16" height="0.900" fill="#9fb0d0"/>
  <rect x="281.2" y="420.4" width="10.500" height="0.900" fill="#a9b8d6"/><rect x="293.3" y="420.4" width="3.87" height="0.900" fill="#d6def2"/><rect x="301.5" y="420.4" width="4.41" height="0.900" fill="#9fb0d0"/>
  <rect x="280" y="423" width="32" height="2.800" fill="#10245a"/>
  <rect x="281.2" y="423.95" width="10.500" height="0.900" fill="#a9b8d6"/><rect x="293.3" y="423.95" width="3.75" height="0.900" fill="#d6def2"/><rect x="301.5" y="423.95" width="4.2" height="0.900" fill="#9fb0d0"/>
  <rect x="313" y="395" width="0.500" height="55" fill="#14305f"/>
  <rect x="314.600" y="395.200" width="72.800" height="50" fill="#081540" stroke="#16356b" stroke-width="0.400"/>
  <rect x="387.600" y="393.800" width="2.700" height="3.200" fill="#5a66b8"/>
  <rect x="368.800" y="395.100" width="3.800" height="1.100" fill="#e8eefc"/><rect x="373.800" y="394.500" width="8.500" height="2.300" fill="none" stroke="#1d4a8c" stroke-width="0.400"/>
  <circle cx="315.900" cy="395.600" r="0.700" fill="#2a8de0"/>
  <rect x="316.800" y="398.500" width="67.200" height="3.600" fill="#05070c"/>
  <text class="t" x="318.300" y="401" font-size="2px" fill="#e6e6e6">监控点 01 实时画面</text>
  <g clip-path="url(#cpPhoto)"><g filter="url(#soft)">
    <rect x="316" y="401" width="69" height="37" fill="#8b7967"/>
    <path d="M316,401 H385 V407 C372,405 352,404 340,404.500 C330,405 322,409 316,412 Z" fill="#416b2e"/>
    <path d="M343,401 H385 V405.400 C372,404.300 356,403.100 346,403.300 Z" fill="#76a742"/>
    <path d="M316,401 H335 C333,406 326,411 316,414 Z" fill="#26442a"/>
    <path d="M356,405 C368,405.500 378,406.500 385,408 V430 C382,422 375,414 364,409.500 Z" fill="#b7a38d"/>
    <path d="M372,405.300 C377,405.800 381,406.800 385,408.200 V411.500 C381,409.300 377,408 372,407.400 Z" fill="#8f9ba1"/>
    <path d="M316,412 C321,410 325,411 327,414 C330,420 333,428 334,438 H316 Z" fill="#687b6c"/>
    <path d="M316,423 C321,421 326,425 328,438 H316 Z" fill="#526659"/>
    <path d="M325,408 C330,404.500 338,404.500 346,406.500 L355,412 L341,422.500 L331,423 Z" fill="#2f3234"/>
    <path d="M327.500,414 L339.500,411.800 L345.500,416.500 L334,424.500 Z" fill="#a6abae"/>
    <path d="M329.500,416.200 L338.500,414 L342,417 L333.500,422 Z" fill="#82898c"/>
    <path d="M321,409.500 C324,407 328,407 331,408 L330,413 L325,416.500 Z" fill="#8c7258"/>
    <path d="M341,422.500 C348,416.500 353,413 358,415 C366,419 374,428 377,438 H331 C332,432 335,427 341,422.500 Z" fill="#8a7864"/>
    <path d="M346,425 C351,421 357,421 362,426 C366,430 367,434 367,438 H345 C344,432 344,428 346,425 Z" fill="#7b6a59"/>
    <path d="M333,403.200 C345,403.600 358,405.600 372,409.200 L371.400,410.600 C358,407.200 345,405.400 333,405 Z" fill="#b9bfc3"/>
    <path d="M350.500,410.500 C361,412.500 370,417.500 376.500,424 C381,428.500 384,433 385,438 H379.500 C378,433.500 375.500,430 372,426.500 C366,420.500 358.500,416.500 349.500,414 Z" fill="#c6cbce"/>
    <path d="M350.500,410.300 C361.500,412.200 370.600,417.200 377.200,423.600 C381.800,428.200 384.600,433 385.600,438" fill="none" stroke="#f0f3f4" stroke-width="0.800"/>
    <path d="M332,438 C333,431 336,426 341,422.500 L342.300,423.800 C339,428 337,433 336,438 Z" fill="#a26f52"/>
    <rect x="356.300" y="402.800" width="1.300" height="3.800" fill="#2b2f3a"/>
    <rect x="361" y="409.200" width="5" height="1.700" fill="#1d2129" transform="rotate(22 361 409.200)"/>
  </g>
    <rect x="316.800" y="402" width="67.200" height="35" filter="url(#grainD)" opacity="0.280"/>
    <rect x="316.800" y="402" width="67.200" height="35" filter="url(#grainL)" opacity="0.200"/>
  </g>
  <rect x="317.300" y="446.800" width="3.800" height="1.100" fill="#e8eefc"/><rect x="322.300" y="445.900" width="9.800" height="2.800" fill="none" stroke="#1d4a8c" stroke-width="0.400"/>
  <rect x="334.500" y="446.800" width="3.800" height="1.100" fill="#e8eefc"/><rect x="339.600" y="445.900" width="11" height="2.800" fill="none" stroke="#1d4a8c" stroke-width="0.400"/>
  <rect x="373.700" y="446.600" width="1.100" height="1.300" fill="#6fa0e8"/><rect x="379.600" y="446.600" width="1.100" height="1.300" fill="#6fa0e8"/><rect x="385" y="446.600" width="1.100" height="1.300" fill="#6fa0e8"/>
</g>
<!-- wifi signals -->
<use href="#wifi" transform="translate(136.400,297)"/>
<use href="#wifi" transform="translate(534.400,297)"/>
<use href="#wifi" transform="translate(335.500,367)"/>
</svg>
</body>
</html>
